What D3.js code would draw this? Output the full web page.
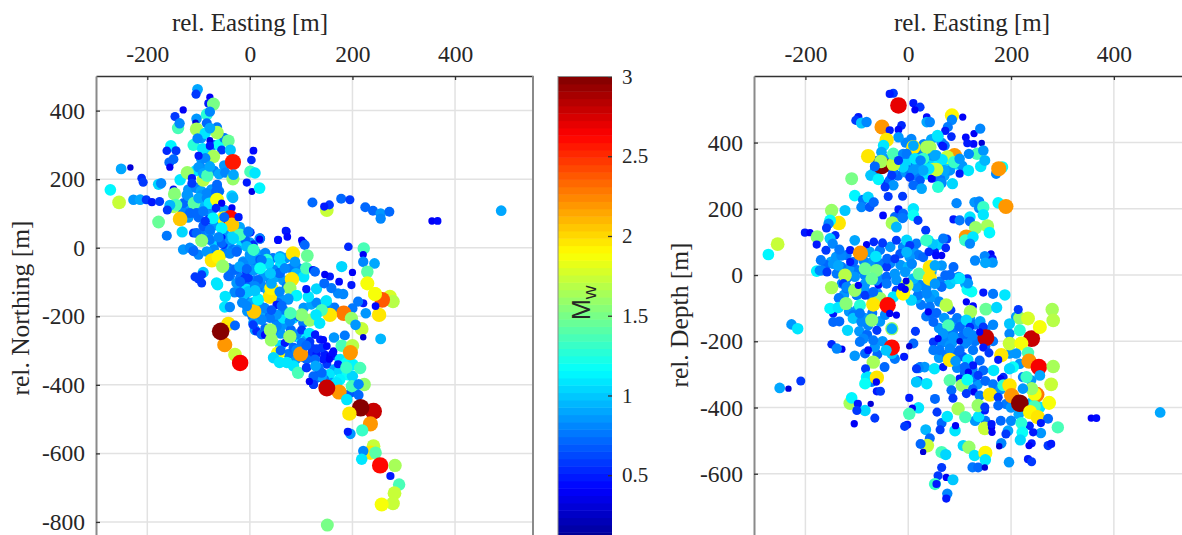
<!DOCTYPE html>
<html>
<head>
<meta charset="utf-8">
<script src="https://cdn.jsdelivr.net/npm/d3@7"></script>
<style>
html,body{margin:0;padding:0;background:#fff;overflow:hidden}
svg{display:block}
text{font-family:"Liberation Serif",serif;fill:#262626}
</style>
</head>
<body>
<svg id="chart" width="1182" height="535"></svg>
<script>
// Each event: [relative Easting (m), relative Northing or Depth (m), Mw]
const mapCluster = [
[-120,170,.85],[-105,175,.8],[-95,165,.9],[-75,170,.85],[-60,165,.8],[-125,120,.9],[-105,115,.9],[-95,110,.85],[-80,105,.85],[-70,115,.8],[-50,110,.9],[-130,105,.8],[-120,88,.85],[-100,88,.7],[-75,90,.85],[-60,75,.9],[-45,65,.8],[-20,60,.9],[-90,65,.75],[-70,65,.85],[-85,35,.8],[-70,15,1.05],[-50,40,.85],[-40,5,.9],[-15,10,1.1],[0,15,.85],[-130,-5,.85],[-100,-20,.8],[-70,-5,.8],[-50,-15,.75],[-95,260,.85],[-85,280,1.05],[-70,300,.7],[-95,320,.85],[-60,300,1.2],[-50,320,.75],[-105,225,1.1],[-70,225,.8],[-60,215,.9],[-50,240,.85],
[0,-20,.85],[12,-15,.9],[30,-15,.8],[45,-30,.75],[70,-30,.85],[80,-60,.75],[95,-60,.8],[60,-50,1.1],[50,-85,.9],[65,-95,.85],[90,-75,.95],[105,-85,1.1],[-5,-105,.7],[8,-95,.8],[25,-115,.75],[35,-125,.9],[48,-140,.7],[60,-150,.85],[-20,-110,.75],[-30,-130,.8],[-10,-150,.8],[5,-160,.9],[20,-170,.75],[35,-190,.7],[50,-210,.75],[65,-225,.85],[80,-240,.7],[60,-250,.85],[75,-270,.8],[90,-260,.7],[100,-265,1.2],[110,-270,.9],[120,-310,.6],[105,-320,.75],[90,-325,.85],[130,-310,.5],[145,-310,.5],[150,-340,.6],[135,-360,.6],[165,-355,.9],[155,-370,1.1],[175,-360,1.05],[190,-370,1.2],[200,-375,1.05],[175,-385,1.15],[160,-395,.85],[145,-385,.75],[130,-380,.7],[205,-420,.85],[195,-425,.65],[-5,-185,.85],[5,-200,.75],[20,-190,.9],[65,-205,1.1],[85,-205,1.05],[105,-175,.85],[120,-165,.9],[130,-160,.8],[165,-175,.75],[150,-165,.8],[10,-240,.85],[30,-235,.7],[45,-240,.7],[60,-285,1.05],[75,-310,.75],[85,-345,1.1]
];
const mapDense = [
[-111,-6,.75],[-88,52,.75],[-78,47,.85],[-55,28,.5],[-55,57,1.05],[-34,33,1.05],[-52,9,.6],[-33,-6,.75],[-3,47,.65],[20,27,.7],[21,23,.4],[55,23,.5],[72,48,.45],[104,14,.6],
[-13,-40,.85],[7,-40,.8],[23,-35,.75],[36,-45,.9],[-23,-62,.8],[-7,-74,.55],[13,-64,.75],[29,-83,.8],[46,-64,.8],[59,-25,.9],[57,-74,.7],[-42,-59,.7],[-39,-83,.75],[-26,-103,.85],[-16,-96,.7],
[10,-127,.7],[-13,-137,1],[16,-150,1.1],[29,-176,.8],[55,-161,.7],[75,-151,.8],[65,-181,.75],[52,-195,.85],[39,-205,.75],[23,-210,.8],[7,-219,.85],[13,-244,.55],[33,-251,.45],[23,-253,.7],
[52,-229,.8],[78,-215,.8],[94,-200,.7],[104,-219,.75],[91,-253,.8],[68,-278,.5],[85,-292,.7],[101,-278,.75],[127,-253,.5],[137,-268,.5],[120,-292,.6],[140,-292,.6],[150,-287,.45],[163,-302,.45],
[156,-316,.4],[143,-326,.5],[127,-326,.7],[111,-326,.7],[111,-350,.6],[134,-350,.75],[140,-375,.9],[163,-316,.55],[176,-326,1.1],[189,-336,1.2],[201,-341,1.15],[124,-375,.7],[124,-399,.6],[169,-394,1.1],
[-97,237,.8],[-87,222,.85],[-123,154,.85],[-94,154,.85],[-117,135,.75],[-94,125,.95],[-84,159,.8],[-68,150,.75],[-110,101,.75],[-78,130,1.1],[-130,130,.7],[-64,179,.75],[-61,164,.7],
[-91,62,.65],[-81,82,.6],[-110,43,.6],[-78,23,.75],[-55,14,.7],[-38,23,.85],[-25,-6,.85],[-12,-45,.75],[1,-35,.85],[20,-35,.65],[10,-64,.75],[-32,-64,.75],[-42,-83,.7],[-19,-88,.75],[-3,-88,.6],
[20,-103,.8],[40,-103,.7],[59,-74,.7],[72,-113,.75],[-6,-122,1.1],[33,-35,1.25],[-9,23,.7],[7,9,.55]
];
const mapNorth = [
[-102,462,.9],[-105,448,.6],[-78,439,.4],[-81,421,.5],[-71,419,1.5],[-84,389,1.25],[-78,397,.8],[-130,402,.4],[-146,383,.6],[-140,349,1.35],[-137,363,.8],
[-104,376,.85],[-106,365,.3],[-84,363,.7],[-104,346,1.65],[-87,334,1.1],[-64,351,.75],[-64,336,1.65],[-78,349,.9],[-42,312,1.45],[-110,300,1.25],[-102,319,.8],
[-92,289,1.1],[-78,313,.35],[-78,297,.5],[-55,285,.6],[-38,285,1],[-71,266,1.65],[-87,261,.8],[-100,268,.5],[-154,297,1.15],[-162,283,.55],[-144,283,.6],
[-149,258,.7],[-157,249,.7],[-156,235,.4],[-33,250,2.55],[7,283,.45],[3,256,.55],[1,222,1.35],[10,218,1.1],[-6,190,.5],[4,164,.35],[19,174,1.15],
[-251,230,.9],[-233,234,.3],[-211,203,.55],[-208,191,.6],[-272,169,1.15],[-255,132,1.75],[-227,140,.85],[-214,140,.9],[-202,140,.6],[-191,133,.5],
[-178,185,1.05],[-173,188,.8],[-176,135,.6],[-149,170,.45],[-136,198,1.1],[-122,219,1.6],[-113,203,.5],[-113,188,.6],[-100,235,.85],[-91,198,1.7],[-91,217,.9],
[-83,210,1.35],[-78,237,.9],[-48,219,.8],[-33,201,1.6],[-32,213,.9],[-64,184,.7],[-66,164,.7],[-35,151,1.05],[-33,146,.95],[-147,157,1.55],[-149,120,1.65],
[-144,125,1.35],[-156,124,.95],[-161,110,.6],[-120,151,.85],[-109,130,1.4],[-100,145,.9],[-84,145,.8],[-79,130,1.1],[-64,140,1.85],[-55,130,.4],[-66,116,.55],[-35,116,.4]
];
const mapCentre = [
[-117,101,.7],[-104,101,.7],[-91,106,.75],[-136,84,2.05],[-178,75,1.45],[-162,35,.75],[-132,46,1.05],[-51,86,1.9],[-38,86,2.6],[-35,67,2.05],[-22,89,.5],[-50,89,.7],
[-72,86,1.15],[-87,77,.6],[-55,57,1.15],[-78,52,.75],[-104,43,.7],[-33,31,1.05],[-61,31,.8],[-94,21,1.55],[1,45,.55],[-19,38,1.35],[20,28,.6],[-117,0,.8],[-110,-10,.7],
[-84,-11,.85],[-74,-37,1.95],[-61,-27,1.9],[-53,-54,1.6],[-91,-72,1],[-100,-91,.6],[-94,-103,.6],[-63,-108,1.1],[-48,-142,1.1],[-26,-11,.7],[-6,4,.95],[7,-6,1.3],
[-3,47,.75],[19,27,.8],[19,25,.4],[70,49,.5],[73,32,.45],[55,22,.45],[101,22,.4],[107,8,.7],[84,-17,1.95],[112,-23,1.45],[58,-31,1.05],[88,-41,.85],[36,-46,1.05],
[68,-60,.8],[110,-60,1.35],[123,-65,.5],[127,-70,.7],[82,-92,1.95],[39,-143,1.95],[42,-118,1.9],[78,-118,1.6],[91,-140,1.15],[75,-148,.85],[114,-143,1.1],[130,-120,1.05],
[110,-121,.5],[149,-155,1.1],[172,-133,.8],[182,-135,.8],[159,-118,.75],[145,-104,.7],[156,-84,.5],[146,-78,.4],[174,-99,.45],[179,-55,1.05],[200,-72,.4],[198,-109,.5],
[-32,27,1.05],[-39,-17,.8],[-26,-12,.7],[-13,-46,.8],[-29,-65,.7],[-10,-89,.6],[-19,-99,.7],[6,-65,.85],[23,-36,.75],[26,-84,.85],[16,-94,.7],[42,-104,.9],[58,-128,.8],[52,-167,.5],[-3,-128,1],
[-49,-173,1.1],[-39,-173,.8],[-15,-160,.8],[-65,-103,1.1],[-94,-79,.6],[-107,-85,.6],[-20,-55,.9],[-6,-62,.7],[20,-60,1.2],[40,-75,1],[10,-112,.8]
];
const mapSouth = [
[192,3,.55],[222,-2,1.35],[221,-20,.4],[221,-41,.8],[243,-46,.9],[229,-70,1.4],[229,-104,1.85],[244,-135,1.85],[273,-143,1.8],[279,-157,1.7],[258,-152,2.4],[244,-135,1.85],[252,-196,1.95],
[245,-170,.45],[221,-162,.5],[211,-157,.75],[226,-191,.85],[200,-177,.75],[183,-191,2.3],[198,-206,1.6],[218,-237,1.75],[206,-225,.85],[221,-261,.3],
[255,-266,.95],[185,-256,.75],[164,-262,.85],[179,-286,1.35],[200,-286,1.7],[196,-306,2.2],[156,-196,1.95],[140,-182,1.35],[117,-211,1.6],[136,-220,1.1],[129,-196,1.1],
[101,-196,1.55],[79,-191,1.35],[62,-169,.7],[42,-182,.65],[8,-186,2.05],[16,-152,1.15],[-6,-170,.8],[10,-125,1],[-19,-131,.7],[6,-225,.6],[29,-254,.45],[40,-240,1.6],
[78,-259,1.6],[42,-269,1.6],[101,-240,.6],[116,-250,1.1],[127,-254,.5],[117,-274,.6],[143,-269,.45],[91,-298,.8],[99,-310,2.2],[55,-308,1.85],[60,-300,.7],[46,-321,1.05],
[58,-335,1.1],[72,-335,1.1],[94,-365,1.35],[110,-350,.6],[140,-365,.7],[128,-345,.9],[160,-310,.45],[155,-325,.4],[130,-295,.6],[110,-285,.7],[172,-340,.5],
[215,-351,1.35],[188,-350,1.3],[223,-399,1.6],[199,-404,1.35],[212,-398,.8],[174,-421,2.2],[150,-409,2.8],[124,-399,.6],[116,-390,.4],[189,-443,1.1],[212,-430,.7],
[241,-477,2.8],[216,-467,3],[194,-484,1.95],[235,-514,2.2],[219,-533,1.3],[196,-543,.85],[191,-537,.5],[238,-574,.5],[241,-579,1.75],[235,-598,1.95],[245,-598,1.4],
[221,-593,.8],[218,-617,1.1],[254,-635,2.6],[283,-635,1.65],[274,-666,.5],[291,-691,1.35],[282,-716,1.75],[279,-746,1.75],[257,-749,1.85],[151,-809,1.5],
[-42,-222,1.95],[-49,-283,2.2],[-57,-244,3],[-29,-227,.7],[-29,-312,1.75],[-19,-336,2.65]
];
const mapOutliers = [
[122,132,.7],[150,110,1.75],[178,143,.7],[195,140,.6],[225,118,.7],[240,108,.7],[255,100,.85],[272,105,.7],[255,85,.8],[355,78,.4],[366,78,.45],[490,108,.9],[155,125,.6],[145,120,.5]
];

const secCluster = [
[-40,340,.85],[-25,350,.9],[-10,335,.85],[0,345,1.05],[15,335,.75],[25,330,.85],[35,340,1.1],[45,330,.85],[50,345,1.05],[60,335,1.15],[70,345,.9],[80,360,.85],[95,335,1.1],[105,330,.85],[-20,300,.7],[-5,310,.85],[15,300,.75],[35,305,1.1],[55,295,.85],[70,300,.9],[-35,325,.75],[-45,350,.85],[-60,345,.75],[-65,315,.85],[5,375,.85],[25,370,.8],[-5,400,.8],[45,410,.9],[65,400,.8],[30,395,.8],
[-70,40,.85],[-55,35,.75],[-35,35,.8],[-15,30,.85],[0,25,.95],[-85,0,.8],[-60,-5,.85],[-45,-15,.8],[-100,15,.75],[-115,20,.85],[-130,25,.75],[-150,40,.9],[-160,30,.7],[-140,55,.85],[-120,60,.75],[-75,70,.9],[-55,75,.75],[-35,85,.85],[-10,85,.8],[10,75,.85],[20,60,.75],[-100,-60,.8],[-85,-45,.85],[-70,-70,.75],[-60,-55,.85],[-125,-60,.85],[-135,-70,.75],[-115,-110,.85],[-85,-130,.85],[-70,-115,.75],[-55,-140,.85],[-45,-120,.8],[-50,-200,.85],[-60,-240,.7],[-95,-170,.85],[-80,-180,.7],
[20,-60,.85],[35,-40,.8],[50,-60,.9],[60,-80,.8],[25,-90,.75],[35,-125,.75],[55,-115,.7],[70,-130,.85],[60,-160,.85],[75,-165,.75],[85,-145,.85],[95,-130,.75],[105,-145,.8],[120,-130,.85],[130,-150,.75],[140,-140,.9],[150,-165,.85],[165,-150,.8],[165,-200,.75],[150,-215,.7],[130,-200,.75],[115,-200,.8],[100,-190,.8],[85,-205,.85],[65,-205,.8],[60,-250,.85],[75,-240,.75],[95,-280,.8],[110,-295,.7],[125,-285,.8],[135,-330,.85],[125,-345,.7],[150,-320,.7],[165,-330,.75],[165,-355,.75],[180,-345,.85],[190,-390,.75],[200,-400,.85],[215,-420,.9],[230,-400,.85],[240,-385,.95],[200,-440,.8],[180,-440,.7],[150,-440,.75],[130,-440,.85]
];
const secDense = [
[-129,-25,.8],[-120,-40,.75],[-104,-5,.85],[-100,-61,.75],[-84,-61,.6],[-58,-30,.45],[-42,-5,.7],[-23,-15,.85],[23,-30,.8],[16,-71,.9],[42,-71,.85],[42,-96,.75],[19,-61,.75],[6,-76,1.05],[65,-30,.85],[61,-20,.75],
[-100,-106,.85],[-107,-121,.75],[-78,-152,.8],[-87,-192,.8],[-65,-217,.85],[-84,-237,.7],[-26,-253,.75],[-32,-237,1],[23,-278,.7],[32,-278,.85],[16,-323,.85],[-81,-308,1.15],[-71,-323,.75],[-100,-394,.55],
[61,-227,.75],[74,-187,.8],[87,-172,.75],[107,-182,.7],[110,-207,.8],[126,-182,.8],[81,-212,.85],[94,-237,.7],[107,-247,.65],[139,-258,.7],[146,-288,.7],[126,-308,.75],
[197,-177,.8],[210,-126,.85],[197,-237,.85],[217,-268,.85],[204,-278,1.2],[185,-308,.55],[223,-308,.75],[239,-318,.85],[246,-389,1.15],[223,-389,.7],[256,-399,1.1],[236,-455,.55],
[-29,311,.75],[-42,276,.6],[-36,286,.7],[16,326,.85],[23,286,.65],[3,316,.75],[-10,326,1.05],[55,361,.9],[75,346,1.05],[81,316,.85],[62,291,.75],[71,391,.75],
[-26,175,.7],[-10,175,.75],[-23,105,.6],[-3,105,1.05],[16,95,.75],[3,54,.85],[-16,64,.65],[29,54,.7],[45,9,.9],[-62,-16,.8],[-26,4,.85],[-42,24,.6],
[-130,59,.8],[-107,39,.7],[-87,44,.8],[-139,4,.75],[-168,14,.8],[-120,-11,.75],[-84,-26,.85],[-42,-26,.75],[-23,-46,.6],[-29,-66,1.1],[16,-36,.85],[36,-56,.8],[10,-11,.95]
];
const secUpper = [
[-29,549,.6],[-36,547,.5],[-19,512,2.7],[10,519,.5],[23,507,.6],[13,499,.4],[36,477,.45],[36,462,.9],[42,462,.8],[-97,477,.5],[-102,467,.6],[-91,459,1],[-81,462,.8],
[-51,447,2.2],[-13,452,.55],[-36,437,.5],[-19,439,.45],[-19,416,.85],[-42,408,1.95],[-48,391,1.1],[-52,371,.9],[-78,359,1.95],[-52,331,3],[-53,343,1.65],[-29,334,1.75],
[-29,366,1.35],[-10,366,.8],[-19,346,.6],[6,411,.8],[10,386,1.95],[10,391,.9],[-3,366,.75],[42,386,1.65],[58,418,1.05],[85,482,1.9],[85,469,.8],[106,477,.4],[77,447,.75],
[72,435,.5],[57,421,1.1],[84,418,.55],[66,391,.45],[112,416,.45],[128,427,.4],[140,442,.8],[127,396,.45],[143,399,.3],[115,398,.5],[134,366,1.35],[118,366,.8],[146,376,.85],
[90,361,2.2],[76,356,1.75],[89,341,1.3],[100,351,.85],[66,348,1.1],[47,361,.85],[36,386,1.65],[49,318,1.75],[70,316,.9],[117,316,1.1],[100,306,.5],[141,328,1.1],[149,346,.95],
[183,326,1.2],[171,306,.8],[176,321,2.2],[86,276,1.05],[65,278,.8],[58,266,1.25],[46,291,.5],[68,388,.5],[52,361,.9],[29,351,1.3],[13,351,1.1],[24,346,.8],[55,318,1.75],[40,321,1.1],
[29,316,.9],[10,316,.85],[3,295,.6],[10,271,.7],[26,261,.9],[45,291,.4],[-110,291,1.5],[-73,301,1],[-58,289,1.15],[-65,328,.7],[-32,301,.6],[-29,271,.85],[-45,266,.6],[-39,237,.6],[-11,238,.6]
];
const secMiddle = [
[-104,240,1.15],[-88,227,.75],[-78,235,1.05],[-91,205,.8],[-75,205,.65],[-67,220,.7],[-149,195,1.6],[-123,195,1],[-135,157,1.95],[-152,165,1.2],[-155,155,.8],[-159,142,.6],
[-49,180,.45],[-31,157,1.65],[-19,198,.5],[-10,185,.7],[10,200,1.1],[10,180,1.2],[19,165,.6],[-11,172,.75],[34,135,.6],[-23,145,.95],[-201,128,.5],[-191,128,.4],[-177,115,1.55],
[-254,93,1.75],[-272,62,1.15],[-178,92,.5],[-142,120,.55],[-152,110,1],[-147,95,.8],[-160,75,.6],[-134,77,.75],[-104,105,.9],[-81,92,.4],[-67,100,.55],[-50,97,.6],[-113,75,.5],
[-93,66,2.2],[-63,56,1.1],[-41,49,.7],[-26,49,.6],[-170,45,.75],[-146,34,.85],[-136,29,.9],[-113,39,.5],[-178,12,1.15],[-172,14,.8],[-158,9,.6],[-123,-1,1.7],[-84,19,1.45],[-62,14,1.5],[-71,-11,1.45],
[-149,-38,1.65],[-126,-26,.6],[-120,-36,.8],[-104,-46,1.6],[-97,-31,.4],[-55,-71,1.6],[-68,-51,.7],[-3,-31,1.7],[-10,-56,1.9],[-4,-18,.35],[-13,-36,.45],[-6,-43,.4],[3,89,.6],[-3,69,.95],
[7,34,.8],[21,4,1.4],[-6,9,.85],[39,104,1.15],[58,92,1.05],[75,109,.6],[42,24,1.95],[42,-11,1.95],[65,29,.85],[52,69,.5],[65,59,.4],[81,-26,1],[65,-36,.7],[88,24,.7],
[130,44,.8],[161,64,.4],[149,57,.8],[164,49,.5],[164,38,.85],[150,37,.9],[94,217,.8],[129,220,.85],[138,222,.8],[138,202,.8],[146,205,1.3],[175,218,1.15],[190,207,2.2],[146,182,1.1],
[120,175,1.1],[120,162,.7],[88,168,.5],[100,165,.75],[154,148,1.65],[131,143,1.6],[113,115,2.2],[111,105,1.3],[158,128,1.15],[126,115,1.1],[120,95,.8],[68,110,.75],[47,93,1],[35,105,1.3],[73,82,.55],[40,70,.55],[54,59,.45],[52,29,.9],[72,-1,.7],[92,-11,1.05],[98,-6,.8],[115,-11,.6],[111,-26,.9],[115,-44,1.2],[52,-26,.85]
];
const secLower = [
[-227,-149,.85],[-215,-162,1.1],[-250,-341,.9],[-233,-343,.3],[-209,-320,.6],[-149,-209,.55],[-129,-224,.4],[-139,-222,.8],[-104,-244,.85],[-146,-116,.5],[-152,-101,1.15],[-136,-98,1.1],
[-146,-142,.7],[-134,-140,.7],[-121,-86,1.55],[-94,-91,1.25],[-118,-167,1.05],[-107,-131,1],[-91,-141,.8],[-71,-136,1.55],[-94,-116,.75],[-68,-89,1.95],[-40,-91,2.6],[-36,-116,.4],[-23,-121,.4],
[-61,-167,.6],[-32,-162,1.6],[-32,-162,.9],[-68,-197,.75],[-94,-202,.75],[-78,-227,.45],[-32,-219,2.6],[-43,-227,1],[-68,-263,1.65],[-46,-278,.7],[-8,-247,.5],[-83,-283,.6],[-78,-308,1.1],[-84,-328,1.2],
[-61,-310,1.95],[-62,-323,.4],[-61,-351,.5],[-54,-351,.6],[-113,-387,1.65],[-110,-371,1.15],[-98,-389,.5],[-84,-409,1.05],[-73,-389,.3],[-100,-409,.6],[-65,-432,.6],[-105,-449,.4],
[2,-371,.5],[20,-401,1.1],[8,-402,.4],[2,-419,1.35],[-2,-452,.5],[-7,-457,.6],[14,-170,.6],[10,-207,.7],[2,-215,.3],[20,-281,.8],[16,-283,.6],[20,-318,.5],[36,-328,1.1],[16,-323,1],[51,-283,1.1],[68,-278,.5],
[52,-374,.7],[56,-414,.6],[65,-447,.7],[62,-467,.6],[76,-427,1.1],[91,-470,1.1],[92,-455,.4],[34,-467,.95],[42,-493,.7],[37,-515,1.75],[24,-510,.7],[29,-534,.3],[65,-535,1.35],[73,-542,1.05],
[97,-404,1.65],[111,-429,1.35],[137,-427,1.1],[149,-409,.5],[149,-463,1.75],[162,-460,.4],[162,-450,.5],[163,-475,.4],[107,-515,1.05],[118,-520,1.6],[129,-545,1.1],[150,-537,1.9],[150,-558,1.1],
[125,-581,.75],[136,-581,.7],[149,-581,.3],[196,-565,.85],[181,-508,.8],[177,-517,.3],[194,-470,.9],[190,-480,.6],[233,-556,.5],[240,-564,.6],[240,-508,.5],[235,-515,.4],[272,-515,.6],[278,-510,.5],
[65,-581,.6],[58,-606,.6],[74,-611,.4],[87,-618,1],[52,-631,1.3],[55,-631,.5],[76,-660,.8],[74,-675,.5]
];
const secCentreEast = [
[45,-116,.7],[49,-142,.7],[39,-111,.4],[83,-106,.6],[74,-91,1.7],[123,-50,1.2],[116,-25,.85],[100,-10,1.1],[81,0,.7],[146,-53,.5],[165,-57,.75],[188,-60,1.1],[113,-81,.4],[126,-94,.45],[121,-111,1.65],
[151,-103,1.45],[172,-98,1.05],[78,-152,1.35],[68,-177,.85],[87,-187,.85],[100,-157,.7],[113,-136,1.05],[120,-157,.55],[116,-172,.8],[146,-157,.6],[151,-189,2.8],[139,-172,.4],[100,-200,.3],[49,-202,.6],
[58,-192,.4],[49,-227,.75],[81,-222,.8],[100,-227,.7],[126,-227,.75],[146,-219,.5],[157,-235,.6],[81,-256,1.95],[92,-260,.85],[116,-256,1.1],[126,-273,.5],[110,-278,.7],[117,-293,.4],[136,-303,.6],[100,-313,.5],
[81,-318,1.4],[105,-333,1.6],[115,-316,1.2],[84,-348,.7],[87,-372,.6],[128,-353,.4],[113,-358,.6],[139,-364,.75],[159,-361,1.95],[136,-394,1.6],[149,-399,.6],[181,-242,1.95],[166,-288,1.1],[175,-256,.5],
[180,-313,.4],[185,-333,1.25],[197,-333,1.95],[201,-364,2.2],[175,-369,.6],[175,-394,.7],[240,-192,2.8],[256,-157,1.85],[217,-130,1.6],[233,-131,1.8],[214,-104,.6],[197,-147,1],[217,-167,1.25],
[197,-207,1.75],[220,-207,1.85],[210,-237,.85],[233,-235,1.35],[235,-260,2.2],[254,-278,2.65],[197,-283,1.05],[230,-308,1.3],[256,-303,.9],[282,-276,1.65],[278,-330,1.75],[274,-386,1.85],[280,-104,1.65],[282,-137,1.7],
[250,-361,2.3],[246,-359,1.85],[240,-343,1.6],[217,-387,3],[246,-397,1.35],[237,-414,1.9],[252,-429,1.95],[272,-434,.7],[258,-447,.5],[258,-477,.85],[291,-460,1.35],[220,-447,1.25],[222,-475,1.2],[218,-498,1.05],[243,-475,.5],[223,-343,.85]
];
const secOutliers = [[356,-432,.4],[366,-432,.45],[490,-415,.9]];

const xTickValues = [-200, 0, 200, 400];
const mapYTicks = [400, 200, 0, -200, -400, -600, -800];
const secYTicks = [400, 200, 0, -200, -400, -600];
const barTicks = [0.5, 1, 1.5, 2, 2.5, 3];

const mapEvents = [...mapCluster, ...mapDense, ...mapNorth, ...mapCentre, ...mapSouth, ...mapOutliers];
const secEvents = [...secCluster, ...secDense, ...secUpper, ...secMiddle, ...secLower, ...secCentreEast, ...secOutliers];

// MATLAB jet, 64 levels
function jet(t){
  const c = v => Math.round(255*Math.max(0,Math.min(1,v)));
  const r = 1.5-Math.abs(4*t-3), g = 1.5-Math.abs(4*t-2), b = 1.5-Math.abs(4*t-1);
  return `rgb(${c(r)},${c(g)},${c(b)})`;
}
const jetLevels = d3.range(64).map(i => jet((i+0.5)/64));
const colour = d3.scaleQuantize().domain([0.05,3]).range(jetLevels);
const radius = d3.scaleLinear().domain([0.3,0.7,1.5,3]).range([3.2,5,6.5,8.8]);

const svg = d3.select("#chart");
const serif = '"Liberation Serif",serif';

function panel({left,right,xRange,yRange,xDomain,yDomain,yTicks,events,titleX,yLabel,yLabelX,yLabelY}){
  const x = d3.scaleLinear().domain(xDomain).range(xRange);
  const y = d3.scaleLinear().domain(yDomain).range(yRange);
  const g = svg.append("g");
  const grid = g.append("g").attr("stroke","#e2e2e2").attr("stroke-width",1.5);
  grid.selectAll("line.v").data(xTickValues).join("line").attr("class","v")
    .attr("x1",x).attr("x2",x).attr("y1",yRange[0]).attr("y2",yRange[1]);
  grid.selectAll("line.h").data(yTicks).join("line").attr("class","h")
    .attr("x1",left).attr("x2",right).attr("y1",y).attr("y2",y);

  g.append("g").selectAll("circle").data(events).join("circle")
    .attr("cx",d=>x(d[0])).attr("cy",d=>y(d[1])).attr("r",d=>radius(d[2]))
    .attr("fill",d=>colour(d[2]));

  const ax = g.append("g").attr("transform",`translate(0,${yRange[0]})`)
    .call(d3.axisTop(x).tickValues(xTickValues).tickFormat(String).tickSize(-4).tickPadding(14).tickSizeOuter(0));
  const ay = g.append("g").attr("transform",`translate(${left},0)`)
    .call(d3.axisLeft(y).tickValues(yTicks).tickFormat(String).tickSize(-4).tickPadding(11).tickSizeOuter(0));
  for (const a of [ax,ay]) {
    a.selectAll("text").style("font-family",serif).attr("font-size",23.5);
    a.selectAll(".tick line").attr("stroke","#333").attr("stroke-width",1.3);
  }
  ax.select(".domain").attr("stroke","#333").attr("stroke-width",1.3);
  ay.select(".domain").attr("stroke","#8a8a8a").attr("stroke-width",2);

  g.append("text").attr("x",titleX).attr("y",31).attr("text-anchor","middle")
    .attr("font-size",25).text("rel. Easting [m]");
  g.append("text").attr("transform",`translate(${yLabelX},${yLabelY}) rotate(-90)`)
    .attr("text-anchor","middle").attr("font-size",25.5).text(yLabel);
}

panel({left:96,right:533,xRange:[96,533],yRange:[76,536],xDomain:[-300,552],yDomain:[501,-841],
  yTicks:mapYTicks,events:mapEvents,titleX:250,yLabel:"rel. Northing [m]",yLabelX:29,yLabelY:308});
svg.append("line").attr("x1",533).attr("x2",533).attr("y1",76).attr("y2",535)
  .attr("stroke","#8a8a8a").attr("stroke-width",2);

panel({left:754,right:1190,xRange:[754,1191],yRange:[76,536],xDomain:[-300,550],yDomain:[601,-788],
  yTicks:secYTicks,events:secEvents,titleX:972,yLabel:"rel. Depth [m]",yLabelX:688,yLabelY:315});

// colour bar
const barY = d3.scaleLinear().domain([3,0.05]).range([76.5,547]);
const bar = svg.append("g");
bar.selectAll("rect").data(jetLevels).join("rect")
  .attr("x",558).attr("width",54)
  .attr("y",(d,i)=>barY(0.05+(i+1)*(2.95/64)))
  .attr("height",(d,i)=>barY(0.05+i*(2.95/64))-barY(0.05+(i+1)*(2.95/64))+0.5)
  .attr("fill",d=>d);
const barAxis = bar.append("g").attr("transform","translate(612,0)")
  .call(d3.axisRight(barY).tickValues(barTicks).tickFormat(d3.format("~g")).tickSize(-4).tickPadding(10).tickSizeOuter(0));
barAxis.select(".domain").remove();
barAxis.selectAll(".tick line").attr("stroke","#333").attr("stroke-width",1.3);
barAxis.selectAll("text").style("font-family",serif).attr("font-size",21);
barAxis.selectAll(".tick").filter(d=>d===3).select("text").attr("dy","0.32em");
bar.append("line").attr("x1",558).attr("x2",558).attr("y1",76).attr("y2",535).attr("stroke","#8a8a8a").attr("stroke-width",1);
bar.append("line").attr("x1",558).attr("x2",612).attr("y1",76.5).attr("y2",76.5).attr("stroke","#8a8a8a").attr("stroke-width",1);
const mw = bar.append("text").attr("transform","translate(590,320) rotate(-90)")
  .style("font-family",'"Liberation Sans",sans-serif').attr("font-size",25);
mw.append("tspan").text("M");
mw.append("tspan").attr("dy",6).attr("font-size",19).text("w");
</script>
</body>
</html>
